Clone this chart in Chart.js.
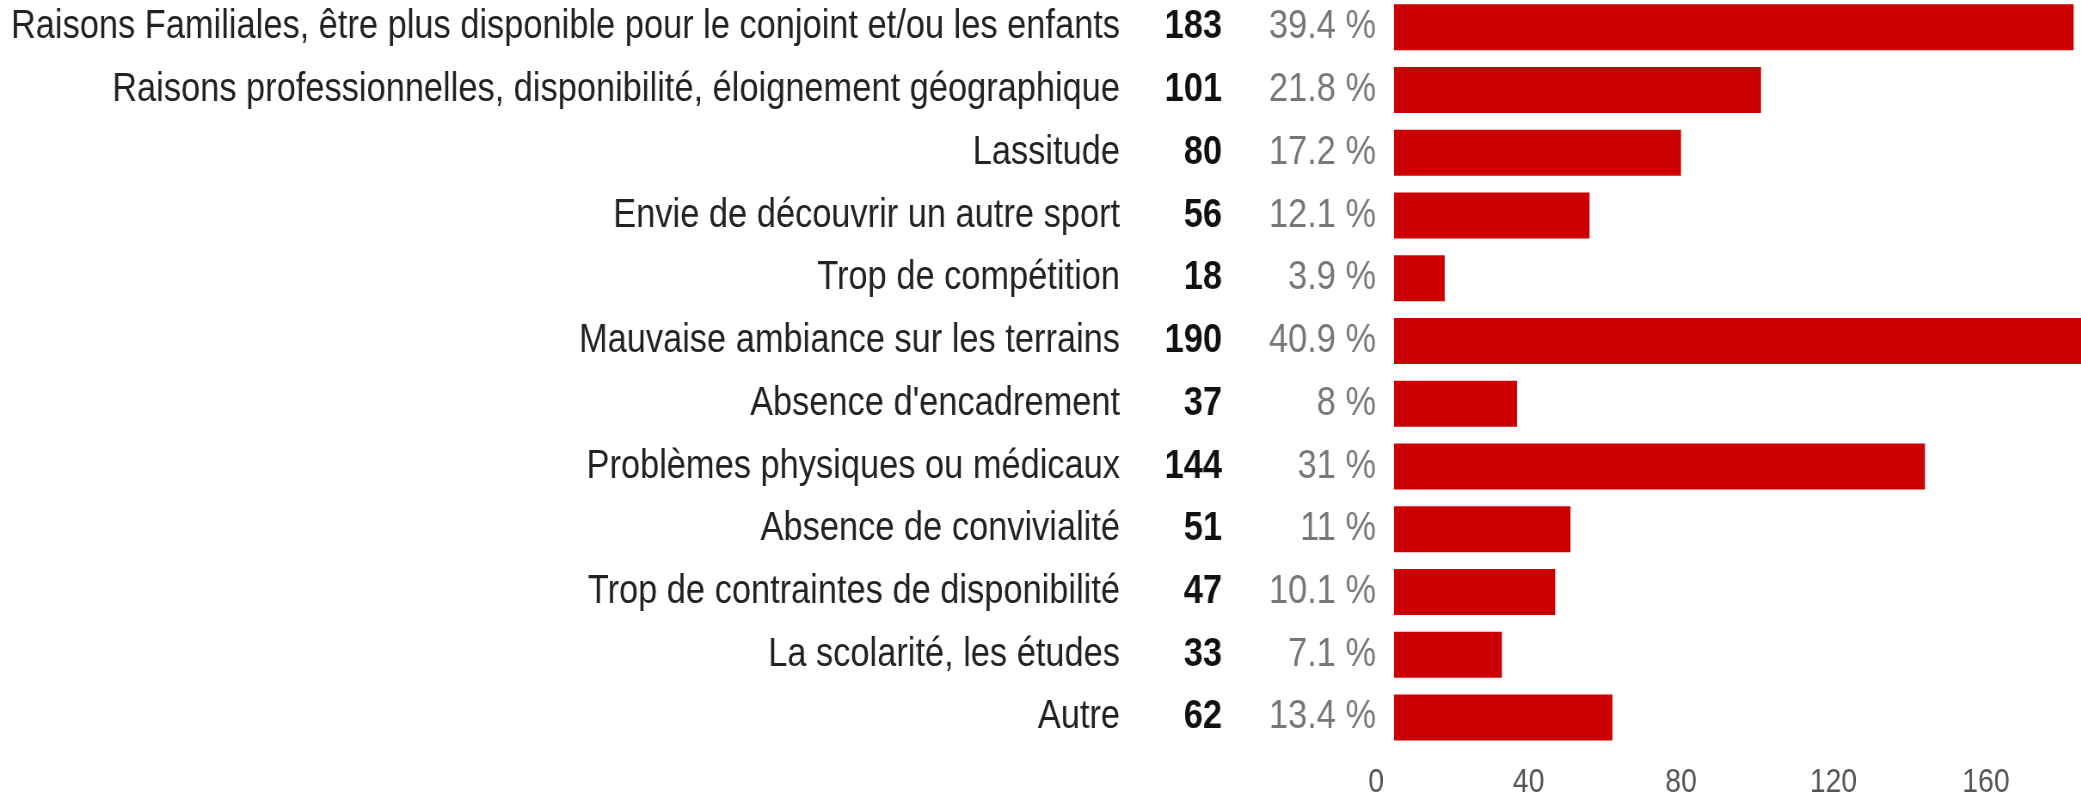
<!DOCTYPE html>
<html>
<head>
<meta charset="utf-8">
<script src="https://cdn.jsdelivr.net/npm/chart.js@4/dist/chart.umd.min.js"></script>
<style>
  html, body { margin: 0; padding: 0; background: #fff; overflow: hidden; width: 2081px; height: 793px; }
  #wrap { position: absolute; left: 0; top: -4px; transform-origin: 0 0; }
</style>
</head>
<body>
<div id="wrap"><canvas id="c"></canvas></div>
<script>
// ---- data ----
const categories = [
  "Raisons Familiales, être plus disponible pour le conjoint et/ou les enfants",
  "Raisons professionnelles, disponibilité, éloignement géographique",
  "Lassitude",
  "Envie de découvrir un autre sport",
  "Trop de compétition",
  "Mauvaise ambiance sur les terrains",
  "Absence d'encadrement",
  "Problèmes physiques ou médicaux",
  "Absence de convivialité",
  "Trop de contraintes de disponibilité",
  "La scolarité, les études",
  "Autre"
];
const counts = [183, 101, 80, 56, 18, 190, 37, 144, 51, 47, 33, 62];
const percents = ["39.4 %", "21.8 %", "17.2 %", "12.1 %", "3.9 %", "40.9 %", "8 %", "31 %", "11 %", "10.1 %", "7.1 %", "13.4 %"];
const xTickValues = [0, 40, 80, 120, 160];

// ---- layout (logical canvas units, page is horizontally condensed) ----
const S = 0.86;                 // horizontal condense factor
const W = Math.round(2081 / S);
const H = 830;
const wrap = document.getElementById('wrap');
wrap.style.transform = 'scaleX(' + S + ')';
const canvas = document.getElementById('c');
canvas.width = W; canvas.height = H;
canvas.style.width = W + 'px'; canvas.style.height = H + 'px';

const chartLeft = 1394 / S;
const labelRight = 1120 / S;
const countRight = 1222 / S;
const pctRight = 1376 / S;
const FONT = "'Liberation Sans', Arial, sans-serif";

const sideText = {
  id: 'sideText',
  afterDraw(chart) {
    const ctx = chart.ctx;
    const y = chart.scales.y;
    ctx.save();
    ctx.textAlign = 'right';
    ctx.textBaseline = 'middle';
    counts.forEach((v, i) => {
      const py = y.getPixelForValue(i);
      ctx.font = 'bold 40px ' + FONT;
      ctx.fillStyle = '#111111';
      ctx.fillText(String(v), countRight, py);
      ctx.font = '40px ' + FONT;
      ctx.fillStyle = '#777777';
      ctx.fillText(percents[i], pctRight, py);
    });
    ctx.restore();
  }
};

new Chart(canvas, {
  type: 'bar',
  data: {
    labels: categories,
    datasets: [{
      data: counts,
      backgroundColor: '#CC0000',
      borderWidth: 0,
      categoryPercentage: 1,
      barPercentage: 0.733,
      clip: 0
    }]
  },
  options: {
    indexAxis: 'y',
    responsive: false,
    animation: false,
    devicePixelRatio: 1,
    layout: { padding: 0 },
    plugins: { legend: { display: false }, tooltip: { enabled: false } },
    scales: {
      x: {
        type: 'linear',
        position: 'bottom',
        min: 4.7,
        max: 185,
        grid: { display: false, drawTicks: false },
        border: { display: false },
        afterBuildTicks: (axis) => { axis.ticks = xTickValues.map(v => ({ value: v })); },
        afterFit: (scale) => {
          scale.height = H - 752.8;
          scale.paddingLeft = 0; scale.paddingRight = 0;
        },
        ticks: {
          padding: 14,
          color: '#555555',
          font: { family: FONT, size: 33 },
          maxRotation: 0,
          autoSkip: false
        }
      },
      y: {
        type: 'category',
        offset: true,
        grid: { display: false, drawTicks: false },
        border: { display: false },
        afterFit: (scale) => {
          scale.width = chartLeft;
          scale.paddingTop = 0; scale.paddingBottom = 0;
        },
        ticks: {
          padding: chartLeft - labelRight,
          color: '#222222',
          font: { family: FONT, size: 40 },
          autoSkip: false
        }
      }
    }
  },
  plugins: [sideText]
});
</script>
</body>
</html>
